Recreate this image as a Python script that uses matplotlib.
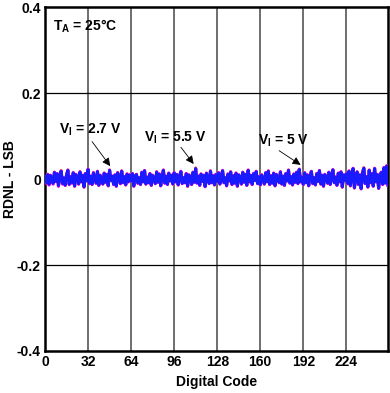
import numpy as np
import matplotlib
matplotlib.use('Agg')
import matplotlib.pyplot as plt

plt.rcParams['font.family'] = ['Liberation Sans', 'DejaVu Sans']
plt.rcParams['font.weight'] = 'bold'
plt.rcParams['mathtext.fontset'] = 'custom'
plt.rcParams['mathtext.rm'] = 'Liberation Sans:bold'
plt.rcParams['mathtext.default'] = 'rm'

# RDNL per code, in milli-LSB
rdnl_blue = [
    5, -8, 10, -12, 8, 3, -10, 15, -5, 12, -15, 6, 18, -10, 2, -14, 9, 20, -12, 5, -8, 14, -16, 10, 3, -11, 16, -6, 8, -18, 12, -4,
    22, -10, 6, -12, 14, 2, -9, 17, -14, 8, 0, -11, 13, -7, 10, -15, 20, -3, 6, -12, 9, -16, 14, 4, -10, 18, -8, 5, -13, 11, -6, 9,
    -4, 12, -16, 7, 10, -9, 3, -12, 15, -6, 19, -11, 4, -8, 12, -14, 8, 2, -10, 16, -7, 11, -15, 5, 20, -9, 6, -12, 13, -4, 8, -11,
    14, -6, 10, -13, 5, 17, -10, 3, -8, 12, -16, 9, 1, -12, 15, -7, 24, -9, 6, -14, 11, -5, 8, -17, 13, 2, -10, 18, -8, 7, -13, 10,
    -5, 14, -11, 6, 19, -8, 3, -15, 11, -4, 16, -12, 7, -9, 13, -16, 9, 4, -11, 15, -7, 10, -14, 20, -6, 8, -12, 12, -3, 17, -10, 5,
    -13, 9, 2, -11, 14, -6, 18, -12, 7, -9, 13, -15, 10, 3, -8, 16, -11, 6, -14, 12, -4, 20, -9, 5, -13, 11, -7, 15, -10, 22, -6, 4,
    -12, 14, -8, 9, -15, 6, 17, -10, 3, -13, 12, -5, 19, -11, 8, -16, 10, 2, -9, 15, -12, 7, 21, -8, 4, -14, 13, -6, 16, -18, 9, -3,
    12, -10, 18, -15, 6, 24, -20, 3, 16, -12, 9, -22, 14, 25, -10, 5, -18, 20, -8, 12, -16, 24, -6, 10, -21, 8, 15, -12, 26, -9, 30, -14,
]
rdnl_magenta = [
    6, -10, 11, -14, 9, 2, -12, 16, -6, 13, -17, 7, 19, -12, 3, -15, 10, 21, -13, 6, -10, 15, -17, 11, 2, -12, 17, -7, 9, -19, 13, -5,
    23, -11, 7, -13, 15, 1, -10, 18, -15, 9, -1, -12, 14, -8, 11, -16, 21, -4, 7, -13, 10, -17, 15, 3, -11, 19, -9, 6, -14, 12, -7, 10,
    -5, 13, -17, 8, 11, -10, 2, -13, 16, -7, 20, -12, 5, -9, 13, -15, 9, 1, -11, 17, -8, 12, -16, 6, 21, -10, 7, -13, 14, -5, 9, -12,
    15, -7, 11, -14, 6, 18, -11, 2, -9, 13, -17, 10, 0, -13, 16, -8, 25, -10, 7, -15, 12, -6, 9, -18, 14, 1, -11, 19, -9, 8, -14, 11,
    -6, 15, -12, 7, 20, -9, 2, -16, 12, -5, 17, -13, 8, -10, 14, -17, 10, 3, -12, 16, -8, 11, -15, 21, -7, 9, -13, 13, -4, 18, -11, 6,
    -14, 10, 1, -12, 15, -7, 19, -13, 8, -10, 14, -16, 11, 2, -9, 17, -12, 7, -15, 13, -5, 21, -10, 6, -14, 12, -8, 16, -11, 23, -7, 5,
    -13, 15, -9, 10, -16, 7, 18, -11, 2, -14, 13, -6, 20, -12, 9, -17, 11, 1, -10, 16, -13, 8, 22, -9, 5, -15, 14, -7, 17, -19, 10, -4,
    13, -11, 19, -16, 7, 25, -21, 2, 17, -13, 10, -23, 15, 26, -11, 6, -19, 21, -9, 13, -17, 25, -7, 11, -22, 9, 16, -13, 27, -10, 31, -15,
]
rdnl_orange = [
    4, -9, 11, -13, 9, 4, -11, 16, -4, 13, -16, 7, 20, -11, 3, -15, 10, 21, -13, 6, -9, 15, -17, 11, 4, -12, 17, -5, 9, -19, 13, -3,
    23, -11, 7, -13, 15, 3, -10, 18, -15, 9, 1, -12, 14, -6, 11, -16, 21, -2, 7, -13, 10, -17, 15, 5, -11, 19, -7, 6, -14, 12, -5, 10,
    -3, 13, -17, 8, 11, -10, 4, -13, 16, -5, 20, -12, 5, -7, 13, -15, 9, 3, -11, 17, -6, 12, -16, 6, 21, -8, 7, -13, 14, -3, 9, -12,
    15, -5, 11, -14, 6, 18, -9, 4, -7, 13, -17, 10, 2, -13, 16, -6, 26, -8, 7, -15, 12, -4, 9, -18, 14, 3, -9, 19, -7, 8, -14, 11,
    -4, 15, -12, 7, 20, -7, 4, -16, 12, -3, 17, -13, 8, -8, 14, -17, 10, 5, -12, 16, -6, 11, -15, 21, -5, 9, -13, 13, -2, 18, -9, 6,
    -14, 10, 3, -12, 15, -5, 19, -13, 8, -8, 14, -16, 11, 4, -7, 17, -12, 7, -15, 13, -3, 21, -8, 6, -14, 12, -6, 16, -9, 23, -5, 5,
    -13, 15, -7, 10, -16, 7, 18, -9, 4, -14, 13, -4, 20, -12, 9, -17, 11, 3, -10, 16, -13, 8, 22, -7, 5, -15, 14, -5, 17, -19, 10, -2,
    13, -11, 19, -16, 7, 25, -21, 4, 17, -13, 10, -23, 15, 26, -9, 6, -19, 21, -7, 13, -17, 25, -5, 11, -22, 9, 16, -11, 27, -8, 31, -15,
]

x_ticks = [0, 32, 64, 96, 128, 160, 192, 224]
y_ticks = [-0.4, -0.2, 0, 0.2, 0.4]
y_ticklabels = ['-0.4', '-0.2', '0', '0.2', '0.4']


def main():
    codes = np.arange(len(rdnl_blue))

    fig = plt.figure(figsize=(3.9, 3.93), dpi=100)
    ax = fig.add_axes([0.1154, 0.1069, 0.8796, 0.8751])

    ax.plot(codes, np.array(rdnl_orange) / 1000.0, color='#ff9900', lw=2.2, zorder=3)
    ax.plot(codes, np.array(rdnl_magenta) / 1000.0, color='#ff00ff', lw=2.2, zorder=4)
    ax.plot(codes, np.array(rdnl_blue) / 1000.0, color='#1a1aff', lw=2.2, zorder=5)

    ax.set_xlim(0, 255)
    ax.set_ylim(-0.4, 0.4)
    ax.set_xticks(x_ticks)
    ax.set_yticks(y_ticks)
    ax.set_yticklabels(y_ticklabels)
    ax.tick_params(length=0, labelsize=10, pad=3)
    for lbl in ax.get_xticklabels() + ax.get_yticklabels():
        lbl.set_fontweight('bold')

    # grid
    for xv in x_ticks[1:]:
        ax.axvline(xv, color='#555555', lw=1.2, zorder=1)
    for yv in y_ticks[1:-1]:
        ax.axhline(yv, color='black', lw=0.9, zorder=1)

    for s in ax.spines.values():
        s.set_linewidth(1.8)

    ax.set_xlabel('Digital Code', fontsize=10, fontweight='bold', labelpad=4)
    ax.set_ylabel('RDNL - LSB', fontsize=10, fontweight='bold')
    ax.yaxis.set_label_coords(-0.083, 0.5)

    ax.text(6, 0.355, r'T$_{A}$ = 25°C', fontsize=10, ha='left', va='center')

    arrow = dict(arrowstyle='-|>', color='black', lw=0.6, mutation_scale=12,
                 shrinkA=0, shrinkB=0)
    ax.annotate('', xy=(48.5, 0.030), xytext=(35, 0.087), arrowprops=arrow)
    ax.text(33.5, 0.114, r'V$_{I}$ = 2.7 V', fontsize=10, ha='center', va='center')
    ax.annotate('', xy=(110.5, 0.035), xytext=(101, 0.074), arrowprops=arrow)
    ax.text(97, 0.097, r'V$_{I}$ = 5.5 V', fontsize=10, ha='center', va='center')
    ax.annotate('', xy=(190, 0.033), xytext=(174, 0.066), arrowprops=arrow)
    ax.text(177.5, 0.088, r'V$_{I}$ = 5 V', fontsize=10, ha='center', va='center')

    fig.savefig('out.png', dpi=100)


if __name__ == '__main__':
    main()
